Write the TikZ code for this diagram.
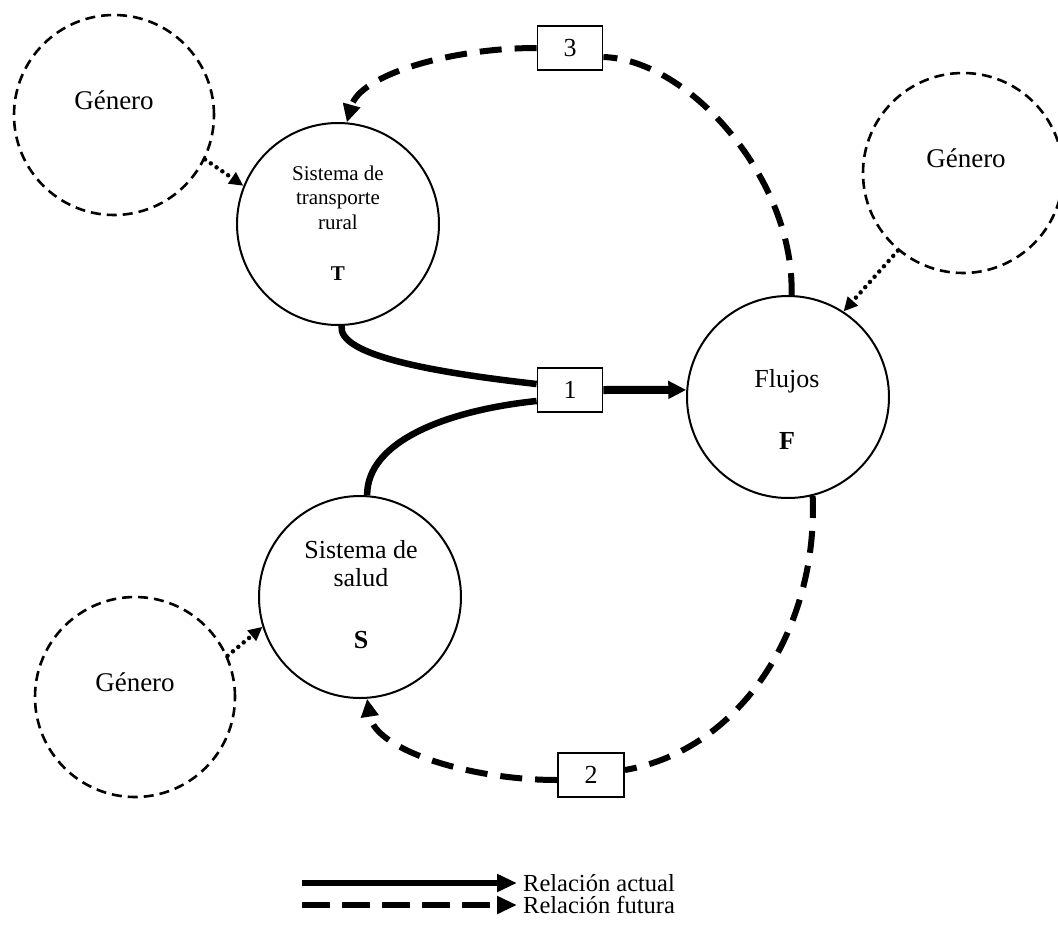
\documentclass[tikz,border=0pt]{standalone}
\usepackage{fontspec}
\setmainfont{Liberation Serif}
\usetikzlibrary{arrows.meta}
\begin{document}
\begin{tikzpicture}[x=1pt,y=-1pt,
  sys/.style={circle, draw, line width=2pt, minimum size=202pt, inner sep=0pt},
  gen/.style={circle, draw, line width=2.6pt, dash pattern=on 10pt off 6pt, minimum size=200pt, inner sep=0pt},
  numbox/.style={draw, fill=white, line width=1.8pt, minimum width=65pt, minimum height=44pt, inner sep=0pt, font=\fontsize{26}{28}\selectfont},
  txt/.style={align=center, inner sep=0pt, font=\fontsize{26}{28}\selectfont},
  gtxt/.style={inner sep=0pt, font=\fontsize{27}{29}\selectfont},
  legtxt/.style={anchor=west, inner sep=0pt, font=\fontsize{24.5}{26}\selectfont},
  actual/.style={line width=6.5pt},
  futura/.style={line width=6pt, dash pattern=on 22pt off 13pt},
  influye/.style={line width=4.5pt, line cap=round, dash pattern=on 0pt off 7pt, -{Triangle[length=14pt,width=13pt]}},
  tipa/.style={-{Triangle[length=18pt,width=17pt]}}
]
\useasboundingbox (0,0) rectangle (1058,926);

% Genero circles
\node[gen] (G1) at (114,115) {};
\node[gtxt] (G1t) at (114,100) {Género};
\node[gen] (G2) at (963,173) {};
\node[gtxt] (G2t) at (966,158) {Género};
\node[gen] (G3) at (135,697) {};
\node[gtxt] (G3t) at (135,682) {Género};

% system circles
\node[sys] (T) at (338,224) {};
\node[txt, font=\fontsize{21}{24.5}\selectfont] (Tt) at (338,223) {Sistema de\\transporte\\rural\\[27pt]\textbf{T}};
\node[sys] (S) at (360,597) {};
\node[txt] (St) at (361,595) {Sistema de\\salud\\[34pt]\textbf{S}};
\node[sys] (F) at (788,397) {};
\node[txt] (Ft) at (787,409) {Flujos\\[34pt]\textbf{F}};

% numbered boxes
\node[numbox] (b3) at (570,48) {3};
\node[numbox] (b1) at (570,390) {1};
\node[numbox, minimum width=66pt] (b2) at (591,775) {2};

% future relations
\draw[futura] (F.88) .. controls (795,180) and (690,60) .. ([yshift=-9pt]b3.east);
\draw[futura, tipa] (b3.west) .. controls (450,48) and (360,75) .. (T.85);
\draw[futura] (F.-76) .. controls (818,630) and (740,750) .. ([yshift=5pt]b2.east);
\draw[futura, tipa] ([yshift=-5pt]b2.west) .. controls (470,780) and (375,750) .. (S.-86);

% actual relations
\draw[actual] (T.-88) .. controls (338,355) and (430,372) .. ([yshift=6pt]b1.west);
\draw[actual] (S.86) .. controls (367,440) and (450,410) .. ([yshift=-11pt]b1.west);
\draw[line width=8pt, tipa] (b1.east) -- (F.176);

% gender influences
\draw[influye] (G1.-26) -- (T.158);
\draw[influye] (G2.-130) -- (F.57);
\draw[influye] (G3.24) -- (S.-163);

% legend
\node[legtxt] (la) at (523,883) {Relación actual};
\node[legtxt] (lf) at (523,905) {Relación futura};
\coordinate (l1) at (302,883);
\coordinate (l2) at (302,905);
\draw[line width=6.5pt, -{Triangle[length=20pt,width=17pt]}] (l1) -- ([xshift=-6pt]la.west);
\draw[line width=6.5pt, dash pattern=on 28pt off 12pt, -{Triangle[length=20pt,width=17pt]}] (l2) -- ([xshift=-6pt]lf.west);
\end{tikzpicture}
\end{document}
